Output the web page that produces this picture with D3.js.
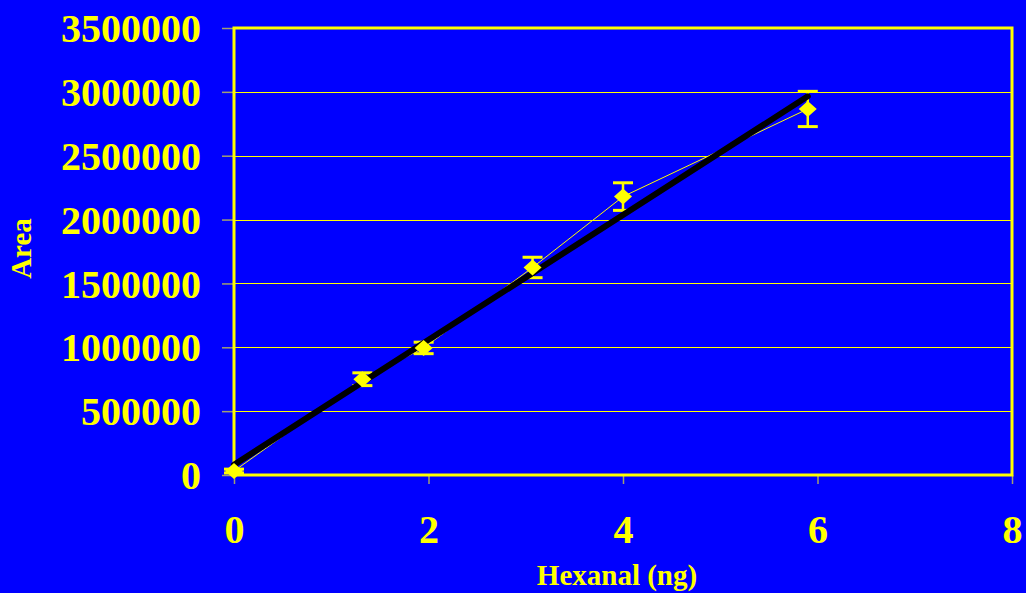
<!DOCTYPE html>
<html><head><meta charset="utf-8">
<script src="https://cdn.jsdelivr.net/npm/d3@7"></script>
<style>html,body{margin:0;padding:0;background:#0000ff;}svg{display:block}</style>
</head><body>
<svg id="c" width="1026" height="593"></svg>
<script>
const xValues = [0, 1.32, 1.95, 3.07, 4.0, 5.9];
const areaValues = [31000, 750000, 995000, 1625000, 2180000, 2866000];
const errValues = [15000, 50000, 45000, 80000, 108000, 138000];
const trendX = [0, 5.9];
const trendY = [80000, 2965000];
const xTicks = [0, 2, 4, 6, 8];
const yTicks = [0, 500000, 1000000, 1500000, 2000000, 2500000, 3000000, 3500000];
const xLabel = "Hexanal (ng)";
const yLabel = "Area";

const svg = d3.select("#c");
const L = 234, R = 1012, T = 28, B = 475;
const x = d3.scaleLinear().domain([0, 8]).range([L, R]);
const y = d3.scaleLinear().domain([0, 3500000]).range([B, T]);
const yellow = "#ffff00";
const font = "'Liberation Serif','Times New Roman',serif";

// gridlines
svg.append("g").selectAll("line").data(yTicks.slice(1)).join("line")
  .attr("x1", L).attr("x2", R).attr("y1", d => Math.round(y(d)) + 0.5).attr("y2", d => Math.round(y(d)) + 0.5)
  .attr("stroke", yellow).attr("stroke-width", 1).attr("shape-rendering", "crispEdges");

// axes
const yAxis = d3.axisLeft(y).tickValues(yTicks).tickSize(12).tickPadding(21).tickFormat(d3.format("d"));
const gy = svg.append("g").attr("transform", `translate(${L},0)`).call(yAxis);
gy.select(".domain").remove();
gy.selectAll("line").attr("stroke", "#a0a070").attr("stroke-width", 1.5);
gy.selectAll("text").attr("fill", yellow).attr("font-family", font).attr("font-weight", "bold").attr("font-size", 40).attr("dy", "0.34em");

const xAxis = d3.axisBottom(x).tickValues(xTicks).tickSize(9).tickPadding(31).tickFormat(d3.format("d"));
const gx = svg.append("g").attr("transform", `translate(0,${B})`).call(xAxis);
gx.select(".domain").remove();
gx.selectAll("line").attr("stroke", "#a0a070").attr("stroke-width", 1.5);
gx.selectAll("text").attr("fill", yellow).attr("font-family", font).attr("font-weight", "bold").attr("font-size", 40).attr("dy", "0.71em");

// plot border
svg.append("rect").attr("x", L).attr("y", T).attr("width", R - L).attr("height", B - T)
  .attr("fill", "none").attr("stroke", yellow).attr("stroke-width", 3);

const pts = xValues.map((v, i) => ({x: v, y: areaValues[i], e: errValues[i]}));

// connecting line
svg.append("path").datum(pts)
  .attr("d", d3.line().x(d => x(d.x)).y(d => y(d.y)))
  .attr("fill", "none").attr("stroke", yellow).attr("stroke-width", 1);

// error bars
const eb = svg.append("g").selectAll("g").data(pts).join("g");
eb.append("line").attr("x1", d => x(d.x)).attr("x2", d => x(d.x))
  .attr("y1", d => y(d.y + d.e)).attr("y2", d => y(d.y - d.e))
  .attr("stroke", yellow).attr("stroke-width", 2.5);
[1, -1].forEach(s => {
  eb.append("line").attr("x1", d => x(d.x) - 10).attr("x2", d => x(d.x) + 10)
    .attr("y1", d => y(d.y + s * d.e)).attr("y2", d => y(d.y + s * d.e))
    .attr("stroke", yellow).attr("stroke-width", 3);
});

// trend line
svg.append("line")
  .attr("x1", x(trendX[0])).attr("y1", y(trendY[0]))
  .attr("x2", x(trendX[1])).attr("y2", y(trendY[1]))
  .attr("stroke", "#000").attr("stroke-width", 6).attr("stroke-linecap", "round");

// diamonds
svg.append("g").selectAll("path").data(pts).join("path")
  .attr("transform", d => `translate(${x(d.x)},${y(d.y)})`)
  .attr("d", "M0,-8L9,0L0,8L-9,0Z")
  .attr("fill", yellow);

// axis titles
svg.append("text").attr("x", (L + R) / 2 - 6).attr("y", 585).attr("text-anchor", "middle")
  .attr("fill", yellow).attr("font-family", font).attr("font-weight", "bold").attr("font-size", 29)
  .text(xLabel);
svg.append("text").attr("transform", `translate(31,${(T + B) / 2 - 3}) rotate(-90)`).attr("text-anchor", "middle")
  .attr("fill", yellow).attr("font-family", font).attr("font-weight", "bold").attr("font-size", 29)
  .text(yLabel);
</script>
</body></html>
